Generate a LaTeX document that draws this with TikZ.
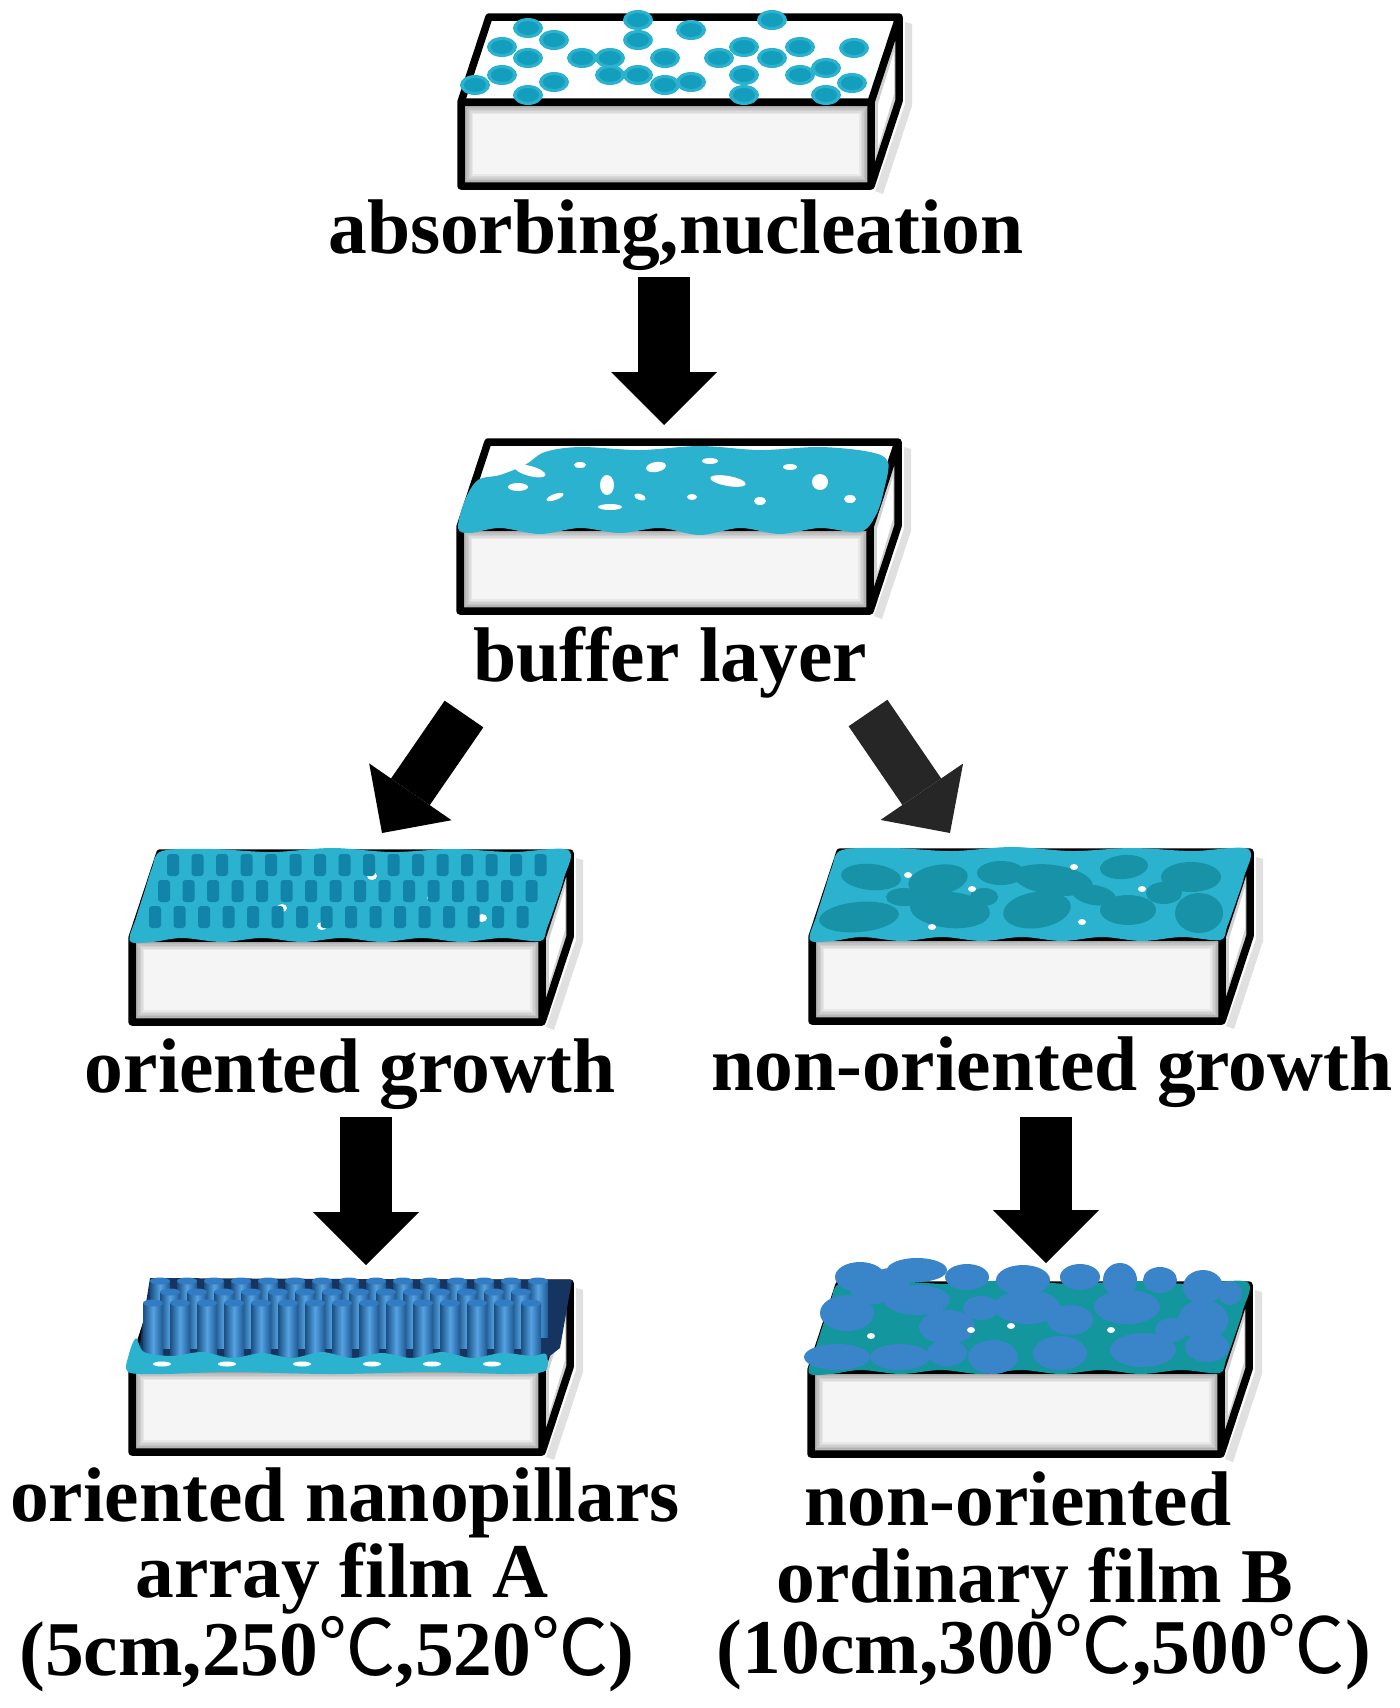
\documentclass[tikz,border=0pt]{standalone}
\usepackage{fontspec}
\setmainfont{Liberation Serif}
\newfontfamily\cjkfont{Noto Sans CJK SC}
\usetikzlibrary{arrows.meta,calc,positioning}

\definecolor{dotcyan}{RGB}{20,158,190}
\definecolor{filmcyan}{RGB}{42,178,206}
\definecolor{barteal}{RGB}{18,132,170}
\definecolor{grainteal}{RGB}{24,146,166}
\definecolor{baseteal}{RGB}{20,150,158}
\definecolor{pillblue}{RGB}{38,112,185}
\definecolor{pilllight}{RGB}{84,162,226}
\definecolor{pillshadow}{RGB}{22,52,96}
\definecolor{grainblue}{RGB}{58,132,202}

\newcommand{\degc}{{\cjkfont\mdseries ℃}}

% substrate block: name, x, y of front top left corner, layer on top
\newcommand{\substrate}[4]{%
  \begin{scope}[shift={(#2,#3)}]
    \coordinate (#1) at (0,0);
    \fill[black!12] (444,-80) -- (451,-78) -- (451,4) -- (422,92) -- (414,89) -- (444,2) -- cycle;
    \fill[white] (0,0) -- (28,-85) -- (438,-85) -- (410,0) -- cycle;
    \foreach \k [evaluate=\k as \lev using int(44-5*\k)] in {0,...,8}
      \fill[black!\lev] (1.5*\k,1.5*\k) rectangle (410-1.5*\k,84-1.5*\k);
    \fill[black!18] (410,0) -- (438,-85) -- (438,-1) -- (410,84) -- cycle;
    \fill[white] (417,2) -- (433,-50) -- (433,-8) -- (417,46) -- cycle;
    \draw[boxline] (0,0) rectangle (410,84)
      (0,0) -- (28,-85) -- (438,-85) -- (438,-1) -- (410,84)
      (410,0) -- (438,-85);
    #4
  \end{scope}}

\newcommand{\filmbase}[1]{%
  \fill[#1] plot[smooth cycle,tension=0.55] coordinates {(-2,3) (4,-20) (12,-45) (20,-70) (30,-87)
    (80,-89) (140,-86) (200,-90) (260,-86) (320,-89) (380,-86) (436,-88) (432,-60) (424,-35)
    (415,-10) (408,3) (370,0) (330,4) (290,0) (250,4) (210,0) (170,4) (130,0) (90,4) (50,0) (20,4)};}

\begin{document}
\begin{tikzpicture}[x=1pt,y=-1pt,
  boxline/.style={line width=7.5pt,line join=round},
  stagelabel/.style={anchor=base,inner sep=0pt,font=\fontsize{77.5}{77.5}\selectfont\bfseries},
  bigarrow/.style={line width=52pt,-{Triangle[width=106pt,length=53pt,line width=0pt]}},
  slantarrow/.style={line width=47pt,-{Triangle[width=100pt,length=50pt,line width=0pt]}}]

\useasboundingbox (0,0) rectangle (1400,1708);

% absorbing, nucleation
\substrate{b1}{461}{102}{
  \foreach \px/\py in {67/-74, 177/-82, 230/-72, 311/-82, 41/-55, 93/-62, 177/-62, 283/-55,
      339/-55, 393/-54, 67/-44, 121/-44, 149/-44, 204/-44, 258/-44, 311/-44, 41/-27, 149/-27,
      177/-27, 283/-27, 339/-27, 365/-34, 14/-17, 93/-20, 204/-17, 230/-20, 391/-19, 67/-7,
      283/-7, 365/-7}
  {
    \fill[filmcyan] (\px,\py) ellipse [x radius=15,y radius=10];
    \fill[dotcyan] (\px,\py) ellipse [x radius=11,y radius=7];
  }
}

% buffer layer
\substrate{b2}{460}{527}{
  \fill[filmcyan] plot[smooth cycle,tension=0.55] coordinates {(-2,1) (5,-27) (18,-47) (40,-52)
    (65,-62) (85,-75) (120,-80) (180,-77) (240,-81) (300,-77) (360,-80) (410,-75) (428,-65)
    (424,-37) (416,-12) (400,5) (360,1) (320,7) (280,1) (240,8) (200,1) (160,6) (120,1) (80,7)
    (40,1) (10,6)};
  \foreach \gx/\gy/\grx/\gry/\ga in {70/-56/16/5/-15, 58/-40/10/4/0, 147/-42/7/10/0,
      196/-60/10/5/10, 268/-46/18/5/-10, 360/-45/8/8/0, 150/-20/12/3/0, 300/-26/6/4/0,
      232/-30/5/3/0, 120/-62/6/3/0, 95/-30/9/3/20, 330/-60/7/3/0, 390/-28/6/4/0,
      250/-66/8/3/0, 180/-30/6/3/-20}
    \fill[white] (\gx,\gy) ellipse [x radius=\grx,y radius=\gry,rotate=\ga];
}

% oriented growth
\substrate{b3}{132}{938}{
  \filmbase{filmcyan}
  \foreach \sx/\sy in {80/-50, 150/-30, 240/-62, 300/-40, 190/-12, 350/-20}
    \fill[white] (\sx,\sy) ellipse [x radius=5,y radius=4];
  \foreach \r/\xo in {0/35, 1/26, 2/17}
    \foreach \c in {0,...,15}
      \fill[barteal,rounded corners=3pt] ({\xo+24.5*\c},{-84+26*\r}) rectangle ++(12,22);
}

% non-oriented growth
\substrate{b4}{812}{937}{
  \filmbase{filmcyan}
  \foreach \gx/\gy/\grx/\gry/\ga in {59/-60/30/13/-5, 126/-57/30/15/10, 189/-64/24/12/0,
      241/-57/40/15/-8, 312/-70/24/12/5, 379/-60/30/15/0, 47/-20/40/15/5, 138/-27/40/18/-5,
      225/-27/34/18/8, 316/-27/28/15/0, 387/-24/24/20/0, 92/-40/18/9/0, 282/-42/22/10/-10,
      352/-44/18/11/0, 172/-40/14/9/0}
    \fill[grainteal] (\gx,\gy) ellipse [x radius=\grx,y radius=\gry,rotate=\ga];
  \foreach \sx/\sy in {96/-62, 160/-48, 262/-70, 330/-48, 120/-10, 270/-15}
    \fill[white] (\sx,\sy) ellipse [x radius=4,y radius=3];
}

% nanopillars array
\substrate{b5}{132}{1368}{
  \fill[pillshadow] (18,-90) -- (440,-88) -- (428,-20) -- (410,-6) -- (6,-6) -- (10,-40) -- cycle;
  \foreach \r/\n/\xo/\yt in {0/14/18/-87, 1/13/28/-76, 2/14/11/-65}
    \foreach \c in {0,...,\n}
    {
      \shade[left color=pillblue!70!black,right color=pillblue!80!black,middle color=pilllight]
        ({\xo+27*\c},\yt) rectangle ++(20,56);
      \fill[pillblue!75!pilllight] ({\xo+27*\c+10},\yt) ellipse [x radius=10,y radius=3.5];
    }
  \fill[filmcyan] plot[smooth cycle,tension=0.5] coordinates {(-4,4) (-3,-14) (4,-30) (12,-16)
    (40,-12) (70,-16) (100,-10) (130,-15) (160,-10) (190,-16) (220,-10) (250,-15) (280,-10)
    (310,-16) (340,-10) (370,-15) (400,-12) (414,-14) (413,3) (380,6) (300,4) (200,6) (100,4)
    (30,6)};
  \foreach \sx in {30,95,170,240,300,360}
    \fill[white] (\sx,-4) ellipse [x radius=9,y radius=2.5];
}

% ordinary film
\substrate{b6}{811}{1370}{
  \filmbase{baseteal}
  \foreach \gx/\gy/\grx/\gry in {49/-93/25/15, 106/-100/30/12, 156/-93/22/13, 212/-90/27/15,
      269/-93/20/13, 309/-90/17/17, 349/-90/17/13, 392/-83/20/17, 419/-77/12/12, 36/-57/27/18,
      106/-70/33/15, 136/-43/28/17, 216/-63/33/17, 259/-50/23/15, 316/-63/33/17, 392/-50/25/20,
      26/-13/33/13, 89/-13/30/13, 136/-17/20/13, 182/-13/25/17, 249/-17/27/17, 332/-20/33/17,
      396/-23/22/15, 62/-78/22/12, 170/-62/18/12, 360/-40/16/12, 80/-90/20/12}
    \fill[grainblue] (\gx,\gy) ellipse [x radius=\grx,y radius=\gry];
  \foreach \sx/\sy in {160/-40, 200/-44, 300/-40, 60/-34}
    \fill[white] (\sx,\sy) ellipse [x radius=4,y radius=3];
}

\node[stagelabel] (lab1) at (676,253) {absorbing,nucleation};
\node[stagelabel] (lab2) at (670,681) {buffer layer};
\node[stagelabel] (lab3) at (350,1092) {oriented growth};
\node[stagelabel] (lab4) at (1052,1090) {non-oriented growth};
\node[stagelabel] (lab5a) at (345,1521) {oriented nanopillars};
\node[stagelabel] (lab5b) at (342,1597) {array film A};
\node[stagelabel] (lab5c) at (327,1675) {(5cm,250\degc,520\degc)};
\node[stagelabel] (lab6a) at (1018,1525) {non-oriented};
\node[stagelabel] (lab6b) at (1035,1602) {ordinary film B};
\node[stagelabel] (lab6c) at (1044,1673) {(10cm,300\degc,500\degc)};

\coordinate (a1s) at (664,277);  \coordinate (a1e) at (664,425);
\coordinate (a2s) at (464,714);  \coordinate (a2e) at (382,833);
\coordinate (a3s) at (868,713);  \coordinate (a3e) at (950,833);
\coordinate (a4s) at (366,1117); \coordinate (a4e) at (366,1265);
\coordinate (a5s) at (1046,1117); \coordinate (a5e) at (1046,1263);

\draw[bigarrow] (a1s) -- (a1e);
\draw[slantarrow] (a2s) -- (a2e);
\draw[slantarrow,black!85] (a3s) -- (a3e);
\draw[bigarrow] (a4s) -- (a4e);
\draw[bigarrow] (a5s) -- (a5e);
\end{tikzpicture}
\end{document}
